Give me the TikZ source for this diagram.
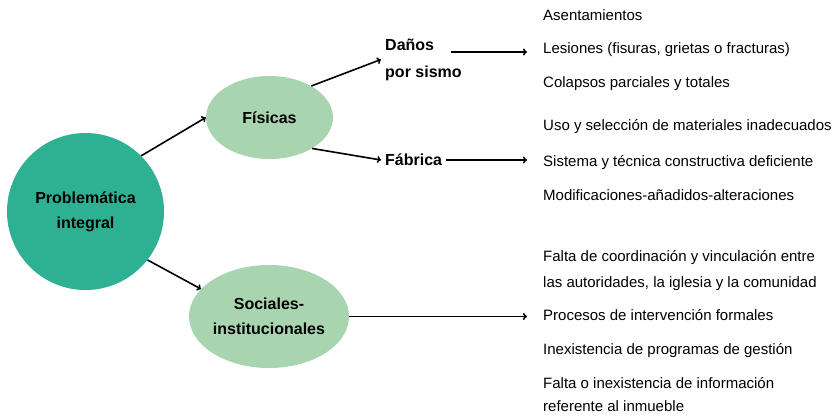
\documentclass[tikz,border=0pt]{standalone}
\usepackage{fontspec}
\setmainfont{Liberation Sans}
\usetikzlibrary{arrows.meta,positioning,shapes.geometric}
\definecolor{tealmain}{RGB}{46,176,146}
\definecolor{greenlight}{RGB}{168,213,176}

\begin{document}
\begin{tikzpicture}[x=1pt, y=-1pt,
  arr/.style={line width=1.6pt, -{To[length=4pt,width=7pt]}},
  boldtext/.style={font=\bfseries\fontsize{16}{25}\selectfont},
  itemtext/.style={anchor=base west, inner sep=0pt, align=left, font=\fontsize{15}{26}\selectfont}]
  \useasboundingbox (0,0) rectangle (837,417);

  \node[circle, fill=tealmain, minimum size=157pt, inner sep=0pt, align=center, boldtext] (prob) at (85.5,211.5) {Problemática\\integral};
  \node[ellipse, fill=greenlight, minimum width=127pt, minimum height=83pt, inner sep=0pt, boldtext] (fis) at (269.5,117.5) {Físicas};
  \node[ellipse, fill=greenlight, minimum width=160pt, minimum height=103pt, inner sep=0pt, align=center, boldtext] (soc) at (269,316.5) {Sociales-\\institucionales};
  \node[anchor=west, inner sep=4pt, align=left, boldtext, font=\bfseries\fontsize{16}{27}\selectfont] (danos) at (381,59.5) {Daños\\por sismo};
  \node[anchor=west, inner sep=4pt, boldtext] (fab) at (381,160) {Fábrica};

  % lists of problems
  \foreach \n/\y/\t in {ase/21/Asentamientos, les/54/{Lesiones (fisuras, grietas o fracturas)}, col/88/Colapsos parciales y totales,
      uso/131/Uso y selección de materiales inadecuados, sis/166/Sistema y técnica constructiva deficiente, mod/200/Modificaciones-añadidos-alteraciones,
      proc/320/Procesos de intervención formales, inex/354/Inexistencia de programas de gestión}
    \node[itemtext] (\n) at (543,\y) {\t};
  % multi-line items: base is the last line
  \node[itemtext] (falta) at (543,287) {Falta de coordinación y vinculación entre\\las autoridades, la iglesia y la comunidad};
  \node[itemtext, font=\fontsize{15}{23}\selectfont] (info) at (543,411) {Falta o inexistencia de información\\referente al inmueble};

  \draw[arr] (prob.45) -- (fis.west);
  \draw[arr] (prob.-38) -- (soc.158);
  \draw[arr] (fis.37) -- (danos.west);
  \draw[arr] (fis.-36) -- (fab.west);

  \coordinate (dtail) at (451,52);
  \draw[arr, shorten >=16pt] (dtail) -- (dtail -| les.west);
  \draw[arr, shorten >=16pt] (fab.east) -- (fab.east -| sis.west);
  \draw[arr, shorten >=16pt] (soc.east) -- (soc.east -| proc.west);
\end{tikzpicture}
\end{document}
